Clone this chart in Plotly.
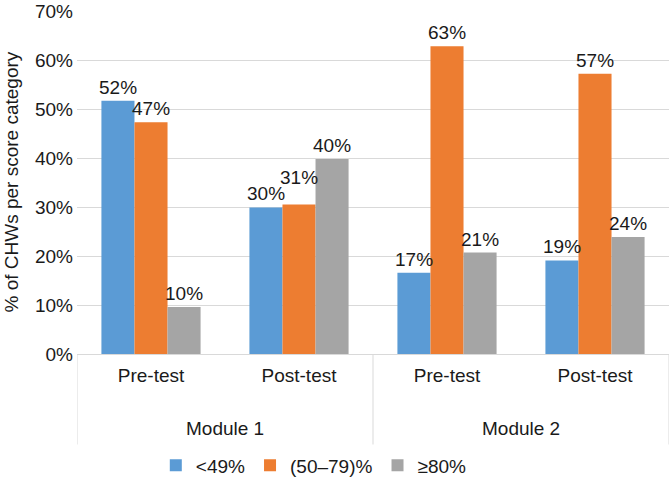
import plotly.graph_objects as go

modules = ["Module 1", "Module 1", "Module 2", "Module 2"]
tests = ["Pre-test", "Post-test", "Pre-test", "Post-test"]
series_names = ["<49%", "(50\u201379)%", "\u226580%"]
low = [51.7, 29.9, 16.6, 19.1]
mid = [47.3, 30.5, 62.8, 57.2]
high = [9.6, 39.8, 20.7, 23.9]
labels_low = ["52%", "30%", "17%", "19%"]
labels_mid = ["47%", "31%", "63%", "57%"]
labels_high = ["10%", "40%", "21%", "24%"]
colors = ["#5B9BD5", "#ED7D31", "#A5A5A5"]

FONT = "Liberation Sans, Arial, Helvetica, sans-serif"
TXT = "#1a1a1a"
BARGAP = 0.33
# extra upward nudge (px) for labels that would collide, keyed by (series, category)
LABEL_NUDGE = {(1, 1): 14}

pos = list(range(len(tests)))
series_vals = [low, mid, high]
series_labs = [labels_low, labels_mid, labels_high]
n = len(series_vals)
bw = (1 - BARGAP) / n

fig = go.Figure()
for k, (name, vals, col) in enumerate(zip(series_names, series_vals, colors)):
    fig.add_trace(go.Bar(
        x=pos, y=vals, name=name, marker_color=col,
        marker_line_width=0,
    ))
    for i, (v, lab) in enumerate(zip(vals, series_labs[k])):
        fig.add_annotation(
            x=pos[i] + (k - (n - 1) / 2) * bw, xref="x", y=v, yref="y",
            text=lab, showarrow=False, xanchor="center", yanchor="bottom",
            yshift=1 + LABEL_NUDGE.get((k, i), 0),
            font=dict(size=19, color=TXT, family=FONT))

# module group labels and dividers
mod_names = []
for m in modules:
    if m not in mod_names:
        mod_names.append(m)
for m in mod_names:
    idx = [i for i, mm in enumerate(modules) if mm == m]
    fig.add_annotation(x=sum(idx) / len(idx), xref="x", y=-75 / 345, yref="paper",
                       text=m, showarrow=False, xanchor="center", yanchor="middle",
                       font=dict(size=19, color=TXT, family=FONT))
bounds = [-0.5]
for i in range(1, len(modules)):
    if modules[i] != modules[i - 1]:
        bounds.append(i - 0.5)
bounds.append(len(modules) - 0.5)
for b in bounds:
    fig.add_shape(type="line", x0=b, x1=b, xref="x", y0=0, y1=-91 / 345, yref="paper",
                  line=dict(color="#d9d9d9", width=1))

fig.add_annotation(x=-66 / 592, xref="paper", y=0.5, yref="paper",
                   xanchor="center", yanchor="middle",
                   text="% of CHWs per score category", textangle=-90, showarrow=False,
                   font=dict(size=19, color=TXT, family=FONT))

fig.update_layout(
    width=669, height=485,
    margin=dict(l=77, r=0, t=11, b=129),
    paper_bgcolor="white", plot_bgcolor="white",
    font=dict(family=FONT, size=19, color=TXT),
    barmode="group", bargap=BARGAP, bargroupgap=0,
    legend=dict(orientation="h", x=0.40, xanchor="center", y=-0.325, yanchor="middle",
                font=dict(size=19), itemwidth=30),
    showlegend=True,
)
fig.update_yaxes(range=[0, 70], dtick=10, ticksuffix="%", showgrid=True,
                 gridcolor="#d9d9d9", gridwidth=1, zeroline=False,
                 showline=False, ticks="", automargin=False, ticklabelstandoff=3,
                 tickfont=dict(size=19, color=TXT))
fig.update_xaxes(range=[-0.5, len(tests) - 0.5], tickvals=pos, ticktext=tests,
                 showline=True, linecolor="#d9d9d9", showgrid=False, zeroline=False,
                 ticks="", automargin=False, ticklabelstandoff=4,
                 tickfont=dict(size=19, color=TXT))

# remove the browser's default 8px body margin so the figure fills the window
fig.write_html("out.html", config={"displayModeBar": False},
               post_script="document.body.style.margin='0px';")
